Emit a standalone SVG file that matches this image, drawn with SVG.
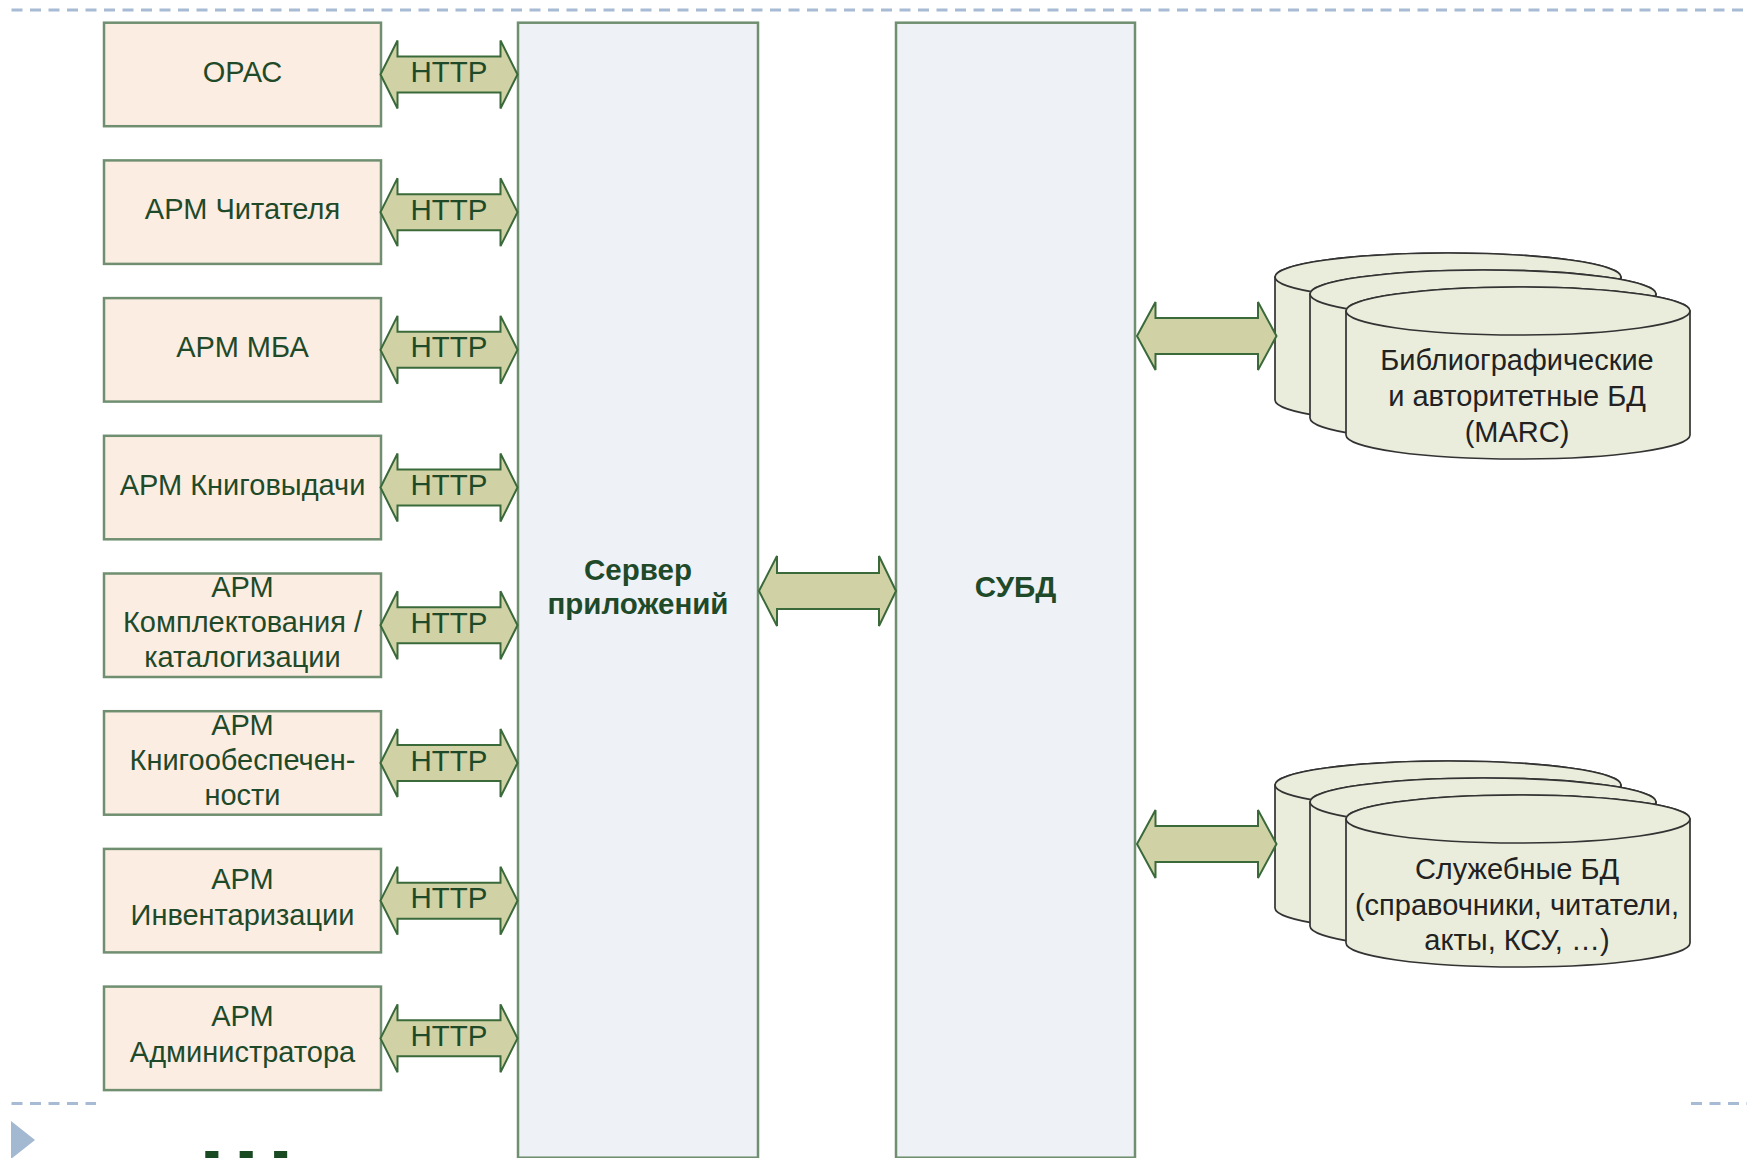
<svg xmlns="http://www.w3.org/2000/svg" xmlns:xlink="http://www.w3.org/1999/xlink" width="1747" height="1158" viewBox="0 0 1747 1158">
<style>
.box{fill:#fcede2;stroke:#6f8f70;stroke-width:2.5}
.tier{fill:#eef1f5;stroke:#6f8f70;stroke-width:2.5}
.lbl{font-family:"Liberation Sans",Arial,sans-serif;font-size:29px;fill:#1f4a2a;text-anchor:middle}
.bold{font-weight:bold;font-size:29.5px}
.arrow{fill:#d0d2a6;stroke:#3a6a3a;stroke-width:2;stroke-linejoin:miter}
.http{font-family:"Liberation Sans",Arial,sans-serif;font-size:29.5px;fill:#1f4a2a;text-anchor:middle}
.cyl{fill:#eaeddc;stroke:#333;stroke-width:1.7}
.dbt{font-family:"Liberation Sans",Arial,sans-serif;font-size:29px;fill:#222;text-anchor:middle}
.dash{stroke:#a7bcd4;stroke-width:3;stroke-dasharray:11 7.5;fill:none}
</style>
<defs>
<polygon id="httpArrow" class="arrow" points="380.5,0 397.5,-34 397.5,-18 500.5,-18 500.5,-34 517.5,0 500.5,34 500.5,18 397.5,18 397.5,34"/>
<polygon id="dbArrow" class="arrow" points="1137,0 1155.5,-34 1155.5,-18 1258,-18 1258,-34 1276.5,0 1258,34 1258,18 1155.5,18 1155.5,34"/>
</defs>
<rect width="1747" height="1158" fill="#ffffff"/>

<g id="decor">
<line class="dash" x1="11.5" y1="10" x2="1747" y2="10"/>
<line class="dash" x1="11.5" y1="1103.5" x2="96" y2="1103.5"/>
<line class="dash" x1="1691" y1="1103.5" x2="1747" y2="1103.5"/>
<polygon points="11,1121 35,1140 11,1159" fill="#a3b8d1"/>
<text x="199" y="1216" font-family="Liberation Sans,Arial,sans-serif" font-weight="bold" font-size="94" fill="#1a4a22">Ш</text>
</g>

<g id="server">
<rect class="tier" x="518" y="22.7" width="240" height="1135"/>
<text class="lbl bold" x="638" y="580">Сервер</text>
<text class="lbl bold" x="638" y="614">приложений</text>
</g>
<g id="dbms">
<rect class="tier" x="896" y="22.7" width="239" height="1135"/>
<text class="lbl bold" x="1015.5" y="597">СУБД</text>
</g>

<g id="opac"><rect class="box" x="104" y="22.7" width="277" height="103.5"/><text class="lbl" x="242.5" y="81.5">ОРАС</text></g>
<g id="arm-reader"><rect class="box" x="104" y="160.4" width="277" height="103.5"/><text class="lbl" x="242.5" y="219.2">АРМ Читателя</text></g>
<g id="arm-mba"><rect class="box" x="104" y="298.1" width="277" height="103.5"/><text class="lbl" x="242.5" y="356.9">АРМ МБА</text></g>
<g id="arm-loan"><rect class="box" x="104" y="435.8" width="277" height="103.5"/><text class="lbl" x="242.5" y="494.6">АРМ Книговыдачи</text></g>
<g id="arm-acq"><rect class="box" x="104" y="573.5" width="277" height="103.5"/><text class="lbl" x="242.5" y="596.5">АРМ</text><text class="lbl" x="242.5" y="631.5">Комплектования /</text><text class="lbl" x="242.5" y="666.5">каталогизации</text></g>
<g id="arm-supply"><rect class="box" x="104" y="711.2" width="277" height="103.5"/><text class="lbl" x="242.5" y="734.5">АРМ</text><text class="lbl" x="242.5" y="770">Книгообеспечен-</text><text class="lbl" x="242.5" y="805">ности</text></g>
<g id="arm-inv"><rect class="box" x="104" y="848.9" width="277" height="103.5"/><text class="lbl" x="242.5" y="889">АРМ</text><text class="lbl" x="242.5" y="924.5">Инвентаризации</text></g>
<g id="arm-admin"><rect class="box" x="104" y="986.6" width="277" height="103.5"/><text class="lbl" x="242.5" y="1026">АРМ</text><text class="lbl" x="242.5" y="1061.5">Администратора</text></g>

<g id="db-biblio">
<path class="cyl" d="M1275,277 L1275,400 A173,24 0 0 0 1621,400 L1621,277 A173,24 0 0 0 1275,277 Z"/>
<ellipse class="cyl" cx="1448" cy="277" rx="173" ry="24"/>
<path class="cyl" d="M1310,294 L1310,418 A173,24 0 0 0 1656,418 L1656,294 A173,24 0 0 0 1310,294 Z"/>
<ellipse class="cyl" cx="1483" cy="294" rx="173" ry="24"/>
<path class="cyl" d="M1346,311 L1346,435 A172,24 0 0 0 1690,435 L1690,311 A172,24 0 0 0 1346,311 Z"/>
<ellipse class="cyl" cx="1518" cy="311" rx="172" ry="24"/>
<text class="dbt" x="1517" y="370">Библиографические</text>
<text class="dbt" x="1517" y="406">и авторитетные БД</text>
<text class="dbt" x="1517" y="442">(MARC)</text>
</g>

<g id="db-service" transform="translate(0,508)">
<path class="cyl" d="M1275,277 L1275,400 A173,24 0 0 0 1621,400 L1621,277 A173,24 0 0 0 1275,277 Z"/>
<ellipse class="cyl" cx="1448" cy="277" rx="173" ry="24"/>
<path class="cyl" d="M1310,294 L1310,418 A173,24 0 0 0 1656,418 L1656,294 A173,24 0 0 0 1310,294 Z"/>
<ellipse class="cyl" cx="1483" cy="294" rx="173" ry="24"/>
<path class="cyl" d="M1346,311 L1346,435 A172,24 0 0 0 1690,435 L1690,311 A172,24 0 0 0 1346,311 Z"/>
<ellipse class="cyl" cx="1518" cy="311" rx="172" ry="24"/>
<text class="dbt" x="1517" y="371">Служебные БД</text>
<text class="dbt" x="1517" y="407">(справочники, читатели,</text>
<text class="dbt" x="1517" y="442">акты, КСУ, …)</text>
</g>

<g id="connectors">
<use xlink:href="#httpArrow" y="74.45"/>
<use xlink:href="#httpArrow" y="212.15"/>
<use xlink:href="#httpArrow" y="349.85"/>
<use xlink:href="#httpArrow" y="487.55"/>
<use xlink:href="#httpArrow" y="625.25"/>
<use xlink:href="#httpArrow" y="762.95"/>
<use xlink:href="#httpArrow" y="900.65"/>
<use xlink:href="#httpArrow" y="1038.35"/>
<text class="http" x="449" y="82">HTTP</text>
<text class="http" x="449" y="219.7">HTTP</text>
<text class="http" x="449" y="357.4">HTTP</text>
<text class="http" x="449" y="495.1">HTTP</text>
<text class="http" x="449" y="632.8">HTTP</text>
<text class="http" x="449" y="770.5">HTTP</text>
<text class="http" x="449" y="908.2">HTTP</text>
<text class="http" x="449" y="1045.9">HTTP</text>
<polygon class="arrow" points="759,591 777,556 777,573 879,573 879,556 896,591 879,626 879,609 777,609 777,626"/>
<use xlink:href="#dbArrow" y="336"/>
<use xlink:href="#dbArrow" y="844"/>
</g>
</svg>
